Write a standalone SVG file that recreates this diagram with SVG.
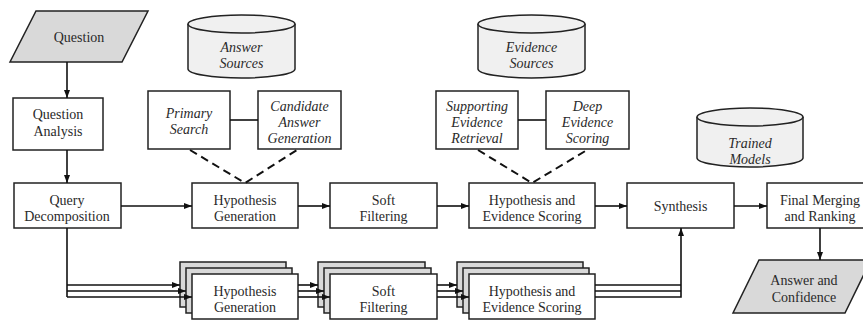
<svg xmlns="http://www.w3.org/2000/svg" width="863" height="320" viewBox="0 0 863 320">
<defs>
<marker id="ah" markerWidth="8" markerHeight="6" refX="8" refY="3" orient="auto" markerUnits="userSpaceOnUse"><path d="M0,0 L8,3 L0,6 z" fill="#111"/></marker>
<style>
.box{fill:#fff;stroke:#222;stroke-width:1.5}
.gray{fill:#d9d9d9;stroke:#222;stroke-width:1.5}
.cyl{fill:#f0f0f0;stroke:#222;stroke-width:1.5}
text{font-family:'Liberation Serif','DejaVu Serif',serif;font-size:14px;fill:#2a2a2a;text-anchor:middle}
.i{font-style:italic}
.c{fill:none;stroke:#111;stroke-width:1.6}
.d{fill:none;stroke:#111;stroke-width:2;stroke-dasharray:8,5}
</style>
</defs>
<rect width="863" height="320" fill="#fff"/>

<g id="question">
<polygon class="gray" points="36,11 148,11 122,62 10,62"/>
<text x="79" y="42">Question</text>
</g>
<g id="question-analysis">
<rect class="box" x="13" y="98" width="90" height="52"/>
<text x="58" y="119">Question</text>
<text x="58" y="136">Analysis</text>
</g>
<g id="query-decomposition">
<rect class="box" x="14" y="183" width="107" height="45"/>
<text x="67" y="205">Query</text>
<text x="67" y="221">Decomposition</text>
</g>
<g id="answer-sources">
<path class="cyl" d="M188,24 a53.5,9 0 0,1 107,0 v45 a53.5,9 0 0,1 -107,0 z"/>
<path class="cyl" d="M188,24 a53.5,9 0 0,0 107,0" fill="none"/>
<text class="i" x="241.5" y="52">Answer</text>
<text class="i" x="241.5" y="68">Sources</text>
</g>
<g id="primary-search">
<rect class="box" x="148" y="91" width="82" height="58"/>
<text class="i" x="189" y="118">Primary</text>
<text class="i" x="189" y="134">Search</text>
</g>
<g id="candidate-answer-generation">
<rect class="box" x="258" y="91" width="83" height="58"/>
<text class="i" x="299.5" y="111">Candidate</text>
<text class="i" x="299.5" y="127">Answer</text>
<text class="i" x="299.5" y="143">Generation</text>
</g>
<g id="evidence-sources">
<path class="cyl" d="M478,24 a53.5,9 0 0,1 107,0 v45 a53.5,9 0 0,1 -107,0 z"/>
<path class="cyl" d="M478,24 a53.5,9 0 0,0 107,0" fill="none"/>
<text class="i" x="531.5" y="52">Evidence</text>
<text class="i" x="531.5" y="68">Sources</text>
</g>
<g id="supporting-evidence-retrieval">
<rect class="box" x="436" y="91" width="82" height="58"/>
<text class="i" x="477" y="111">Supporting</text>
<text class="i" x="477" y="127">Evidence</text>
<text class="i" x="477" y="143">Retrieval</text>
</g>
<g id="deep-evidence-scoring">
<rect class="box" x="546" y="91" width="83" height="58"/>
<text class="i" x="587.5" y="111">Deep</text>
<text class="i" x="587.5" y="127">Evidence</text>
<text class="i" x="587.5" y="143">Scoring</text>
</g>
<g id="trained-models">
<path class="cyl" d="M697,117 a53,9 0 0,1 106,0 v41 a53,9 0 0,1 -106,0 z"/>
<path class="cyl" d="M697,117 a53,9 0 0,0 106,0" fill="none"/>
<text class="i" x="750" y="148">Trained</text>
<text class="i" x="750" y="164">Models</text>
</g>
<g id="hypothesis-generation">
<rect class="box" x="192" y="183" width="106" height="45"/>
<text x="245" y="205">Hypothesis</text>
<text x="245" y="221">Generation</text>
</g>
<g id="soft-filtering">
<rect class="box" x="330" y="183" width="107" height="45"/>
<text x="383.5" y="205">Soft</text>
<text x="383.5" y="221">Filtering</text>
</g>
<g id="hypothesis-evidence-scoring">
<rect class="box" x="469" y="183" width="126" height="45"/>
<text x="532" y="205">Hypothesis and</text>
<text x="532" y="221">Evidence Scoring</text>
</g>
<g id="synthesis">
<rect class="box" x="627" y="183" width="107" height="45"/>
<text x="680.5" y="211">Synthesis</text>
</g>
<g id="final-merging">
<rect class="box" x="767" y="183" width="106" height="45"/>
<text x="820" y="205">Final Merging</text>
<text x="820" y="221">and Ranking</text>
</g>
<g id="answer-confidence">
<polygon class="gray" points="759,260 871,260 845,313 733,313"/>
<text x="804" y="285">Answer and</text>
<text x="804" y="302">Confidence</text>
</g>
<g id="hypothesis-generation-stack">
<rect class="gray" x="180" y="262" width="106" height="45"/>
<rect class="gray" x="186" y="268" width="106" height="45"/>
<rect class="box" x="192" y="274" width="106" height="45"/>
<text x="245" y="296">Hypothesis</text>
<text x="245" y="312">Generation</text>
</g>
<g id="soft-filtering-stack">
<rect class="gray" x="318" y="262" width="107" height="45"/>
<rect class="gray" x="324" y="268" width="107" height="45"/>
<rect class="box" x="330" y="274" width="107" height="45"/>
<text x="383.5" y="296">Soft</text>
<text x="383.5" y="312">Filtering</text>
</g>
<g id="hypothesis-evidence-scoring-stack">
<rect class="gray" x="457" y="262" width="126" height="45"/>
<rect class="gray" x="463" y="268" width="126" height="45"/>
<rect class="box" x="469" y="274" width="126" height="45"/>
<text x="532" y="296">Hypothesis and</text>
<text x="532" y="312">Evidence Scoring</text>
</g>

<g id="connectors">
<path class="c" d="M67,62 V98" marker-end="url(#ah)"/>
<path class="c" d="M67,150 V183" marker-end="url(#ah)"/>
<path class="c" d="M121,206 H192" marker-end="url(#ah)"/>
<path class="c" d="M298,206 H330" marker-end="url(#ah)"/>
<path class="c" d="M437,206 H469" marker-end="url(#ah)"/>
<path class="c" d="M595,206 H627" marker-end="url(#ah)"/>
<path class="c" d="M734,206 H767" marker-end="url(#ah)"/>
<path class="c" d="M820,228 V260" marker-end="url(#ah)"/>
<path class="c" d="M230,120 H258"/>
<path class="c" d="M518,120 H546"/>
<path class="d" d="M190,150 L245,183 L297,150"/>
<path class="d" d="M478,150 L532,183 L587,150"/>
<path class="c" d="M67,228 V297"/>
<path class="c" d="M67,285 H180" marker-end="url(#ah)"/>
<path class="c" d="M67,291 H186" marker-end="url(#ah)"/>
<path class="c" d="M67,297 H192" marker-end="url(#ah)"/>
<path class="c" d="M298,285 H318" marker-end="url(#ah)"/>
<path class="c" d="M298,291 H324" marker-end="url(#ah)"/>
<path class="c" d="M298,297 H330" marker-end="url(#ah)"/>
<path class="c" d="M437,285 H457" marker-end="url(#ah)"/>
<path class="c" d="M437,291 H463" marker-end="url(#ah)"/>
<path class="c" d="M437,297 H469" marker-end="url(#ah)"/>
<path class="c" d="M595,285 H681"/>
<path class="c" d="M595,291 H681"/>
<path class="c" d="M595,297 H681 V228" marker-end="url(#ah)"/>
</g>
</svg>
